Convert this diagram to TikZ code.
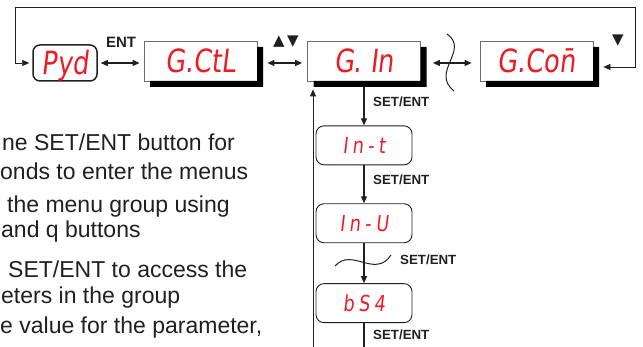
\documentclass[tikz,border=0pt]{standalone}
\usepackage{fontspec}
\setmainfont{Liberation Sans}
\newfontfamily\segfont{DejaVu Sans}[FakeStretch=0.8,FakeSlant=0.12]
\newfontfamily\segfontwide{DejaVu Sans}[FakeStretch=0.8,FakeSlant=0.12,LetterSpace=20]
\newfontfamily\symfont{DejaVu Sans}
\usetikzlibrary{arrows.meta,positioning}
\definecolor{ink}{HTML}{231F20}
\definecolor{boxline}{HTML}{6D6E71}
\definecolor{segred}{HTML}{ED1C24}
\tikzset{>={Triangle[length=7pt,width=6pt]},
  every node/.style={inner sep=0pt},
  flow/.style={draw=ink,line width=1.1pt},
  loopline/.style={draw=ink,line width=.8pt},
  wave/.style={draw=ink,line width=1pt},
  pwdbox/.style={draw=ink,line width=1.5pt,rounded corners=7pt,
    minimum width=64pt,minimum height=36pt,text=segred,
    font=\segfont\fontsize{32}{32}\selectfont,text height=23pt,text depth=0pt},
  menubox/.style={draw=boxline,line width=.8pt,
    minimum width=113pt,minimum height=40pt,text=segred,
    font=\segfont\fontsize{32}{32}\selectfont,text height=23pt,text depth=0pt},
  parambox/.style={draw=ink,line width=.9pt,rounded corners=8pt,
    minimum width=96pt,minimum height=39pt,text=segred,
    font=\segfontwide\fontsize{22}{22}\selectfont,text height=16pt,text depth=0pt},
  keylabel/.style={text=ink,font=\bfseries\fontsize{13.3}{14}\selectfont},
  arrowkey/.style={text=ink,font=\symfont\fontsize{15}{15}\selectfont},
  steptext/.style={anchor=base west,text=ink,font=\fontsize{23}{23}\selectfont}}

\begin{document}
\begin{tikzpicture}[x=1pt,y=-1pt]
\useasboundingbox (0,0) rectangle (643,347);
% instruction text, cut off at the left edge
\node[steptext] (l1) at (2,151) {ne SET/ENT button for};
\node[steptext] (l2) at (0,180) {onds to enter the menus};
\node[steptext] (l3) at (7,213) {the menu group using};
\node[steptext] (l4) at (1,238) {and q buttons};
\node[steptext] (l5) at (8,278) {SET/ENT to access the};
\node[steptext] (l6) at (1,304) {eters in the group};
\node[steptext] (l7) at (0,334) {e value for the parameter,};
% menu row
\node[pwdbox] (pyd) at (65,63) {Pyd};
\node[menubox] (gctl) at (200.5,61) {G.CtL};
\node[menubox] (gin) at (364,61) {G. In};
\node[menubox] (gcon) at (536.5,61) {G.Co\=n};
% black shadows right and below the menu boxes
\foreach \c in {200.5,364,536.5}{
\fill[black] (\c+56.5,47) -- (\c+62.5,47) -- (\c+62.5,87) -- (\c-50.5,87) -- (\c-50.5,81) -- (\c+56.5,81) -- cycle;}
% parameters of the group
\node[parambox,below=44pt of gin] (int) {In-t};
\node[parambox,below=38pt of int] (inu) {In-U};
\node[parambox,below=40pt of inu] (bs4) {bS4};
\coordinate (loopL) at (15,7);
\coordinate (loopR) at (635,7);
\coordinate (loopB) at (313,347);
\coordinate (ginfoot) at ([yshift=-8pt]gin.south);
% connectors
\draw[flow,<->] ([xshift=3pt]pyd.east) -- ([xshift=-4pt,yshift=-2pt]gctl.west);
\draw[flow,<->] ([xshift=10pt,yshift=-2pt]gctl.east) -- ([xshift=-5pt,yshift=-2pt]gin.west);
\draw[flow,<->] ([xshift=12pt,yshift=-2pt]gin.east) -- ([xshift=-8pt,yshift=-2pt]gcon.west);
\draw[loopline,<->] ([xshift=-3pt]pyd.west) -| (loopL) -- (loopR) |- ([xshift=10pt,yshift=-6pt]gcon.east);
\draw[flow,->] ([yshift=-6pt]gin.south) -- (int);
\draw[flow,->] (int) -- (inu);
\draw[flow,->] (inu) -- (bs4);
\draw[flow] (bs4) -- (bs4.south |- loopB);
\draw[loopline,->] (loopB) -- (loopB |- ginfoot);
\draw[wave] (447,34) .. controls (470,50) and (430,72) .. (454,91);
\draw[wave] (335,266) .. controls (352,247) and (375,279) .. (391,255);
% key labels
\node[keylabel,font=\bfseries\fontsize{15}{15}\selectfont] (entkey) at (121,42) {ENT};
\node[arrowkey] (updown) at (286,42) {▲\,▼};
\node[arrowkey] (downkey) at (618,41) {▼};
\node[keylabel,anchor=west] (set1) at (373,102) {SET/ENT};
\node[keylabel,anchor=west] (set2) at (373,180) {SET/ENT};
\node[keylabel,anchor=west] (set3) at (400,260) {SET/ENT};
\node[keylabel,anchor=west] (set4) at (373,335) {SET/ENT};
\end{tikzpicture}
\end{document}
